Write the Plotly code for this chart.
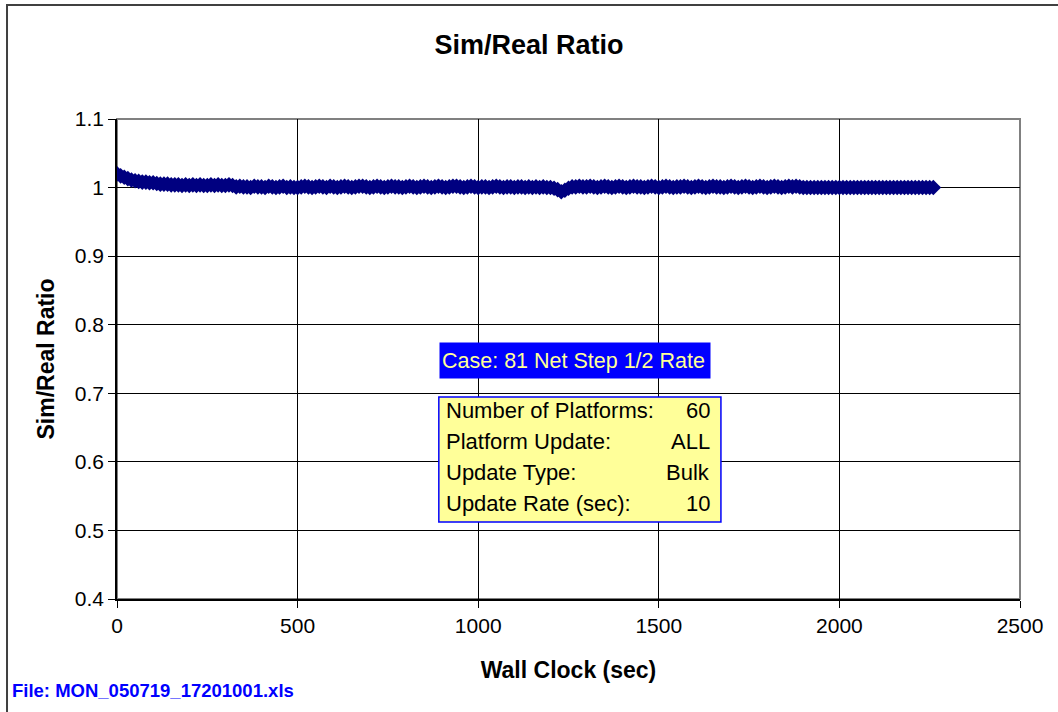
import plotly.graph_objects as go

# Wall clock (sec) and sim/real ratio (one sample every 10 s)
wall_clock = [
    0, 10, 20, 30, 40, 50, 60, 70, 80, 90,
    100, 110, 120, 130, 140, 150, 160, 170, 180, 190,
    200, 210, 220, 230, 240, 250, 260, 270, 280, 290,
    300, 310, 320, 330, 340, 350, 360, 370, 380, 390,
    400, 410, 420, 430, 440, 450, 460, 470, 480, 490,
    500, 510, 520, 530, 540, 550, 560, 570, 580, 590,
    600, 610, 620, 630, 640, 650, 660, 670, 680, 690,
    700, 710, 720, 730, 740, 750, 760, 770, 780, 790,
    800, 810, 820, 830, 840, 850, 860, 870, 880, 890,
    900, 910, 920, 930, 940, 950, 960, 970, 980, 990,
    1000, 1010, 1020, 1030, 1040, 1050, 1060, 1070, 1080, 1090,
    1100, 1110, 1120, 1130, 1140, 1150, 1160, 1170, 1180, 1190,
    1200, 1210, 1220, 1230, 1240, 1250, 1260, 1270, 1280, 1290,
    1300, 1310, 1320, 1330, 1340, 1350, 1360, 1370, 1380, 1390,
    1400, 1410, 1420, 1430, 1440, 1450, 1460, 1470, 1480, 1490,
    1500, 1510, 1520, 1530, 1540, 1550, 1560, 1570, 1580, 1590,
    1600, 1610, 1620, 1630, 1640, 1650, 1660, 1670, 1680, 1690,
    1700, 1710, 1720, 1730, 1740, 1750, 1760, 1770, 1780, 1790,
    1800, 1810, 1820, 1830, 1840, 1850, 1860, 1870, 1880, 1890,
    1900, 1910, 1920, 1930, 1940, 1950, 1960, 1970, 1980, 1990,
    2000, 2010, 2020, 2030, 2040, 2050, 2060, 2070, 2080, 2090,
    2100, 2110, 2120, 2130, 2140, 2150, 2160, 2170, 2180, 2190,
    2200, 2210, 2220, 2230, 2240, 2250, 2260]
ratio = [
    1.020, 1.017, 1.015, 1.013, 1.011, 1.010, 1.009, 1.008, 1.008, 1.007,
    1.007, 1.006, 1.005, 1.005, 1.005, 1.004, 1.004, 1.004, 1.003, 1.004,
    1.003, 1.004, 1.003, 1.004, 1.003, 1.003, 1.004, 1.003, 1.004, 1.003,
    1.003, 1.004, 1.003, 1.001, 1.002, 1.001, 1.001, 1.000, 1.002, 1.001,
    1.001, 1.000, 1.002, 1.001, 1.000, 1.001, 1.002, 1.000, 1.001, 1.000,
    1.000, 1.001, 1.002, 1.001, 1.000, 1.001, 1.002, 1.001, 1.000, 1.002,
    1.001, 1.000, 1.001, 1.002, 1.001, 1.000, 1.001, 1.002, 1.002, 1.001,
    1.000, 1.001, 1.002, 1.001, 1.000, 1.001, 1.002, 1.001, 1.001, 1.000,
    1.001, 1.002, 1.001, 1.000, 1.001, 1.002, 1.001, 1.000, 1.001, 1.002,
    1.001, 1.000, 1.001, 1.002, 1.002, 1.001, 1.000, 1.001, 1.002, 1.001,
    1.000, 1.001, 1.001, 1.000, 1.001, 1.002, 1.001, 1.000, 1.001, 1.001,
    1.000, 1.001, 1.001, 1.000, 1.001, 1.000, 1.001, 1.000, 1.001, 1.000,
    1.000, 0.999, 0.997, 0.994, 0.996, 0.999, 1.001, 1.001, 1.002, 1.001,
    1.001, 1.002, 1.001, 1.000, 1.001, 1.002, 1.001, 1.000, 1.001, 1.002,
    1.001, 1.000, 1.001, 1.002, 1.001, 1.001, 1.000, 1.001, 1.002, 1.001,
    1.000, 1.001, 1.002, 1.001, 1.000, 1.001, 1.001, 1.002, 1.001, 1.000,
    1.001, 1.002, 1.001, 1.000, 1.001, 1.002, 1.001, 1.001, 1.000, 1.001,
    1.002, 1.001, 1.000, 1.001, 1.002, 1.001, 1.000, 1.001, 1.002, 1.001,
    1.000, 1.001, 1.002, 1.001, 1.000, 1.001, 1.002, 1.001, 1.002, 1.001,
    1.000, 1.000, 1.000, 1.000, 1.000, 1.000, 1.000, 1.000, 1.000, 1.000,
    1.000, 1.000, 1.000, 1.000, 1.000, 1.000, 1.000, 1.000, 1.000, 1.000,
    1.000, 1.000, 1.000, 1.000, 1.000, 1.000, 1.000, 1.000, 1.000, 1.000,
    1.000, 1.000, 1.000, 1.000, 1.000, 1.000, 1.000]

info_labels = ["Number of Platforms:", "Platform Update:", "Update Type:", "Update Rate (sec):"]
info_values = ["60", "ALL", "Bulk", "10"]
case_text = "Case: 81 Net Step 1/2 Rate"
file_text = "File: MON_050719_17201001.xls"

fnt = "Liberation Sans, Arial, sans-serif"

fig = go.Figure()
fig.add_trace(go.Scatter(x=wall_clock, y=ratio, mode="markers",
                         marker=dict(symbol="diamond", size=12, color="#000080",
                                     line=dict(width=0, color="#000080")),
                         showlegend=False, hoverinfo="x+y"))

# outer chart frame
fig.add_shape(type="rect", xref="paper", yref="paper", x0=-0.1218, x1=1.05, y0=-0.25, y1=1.2375,
              line=dict(color="#404040", width=2), layer="below")
# plot area frame (gray top/right)
fig.add_shape(type="rect", xref="paper", yref="paper", x0=0, x1=1, y0=0, y1=1,
              line=dict(color="#808080", width=2), layer="below")

# case label
fig.add_annotation(x=891, y=0.7475, xref="x", yref="y", text=case_text, showarrow=False,
                   xanchor="left", yanchor="middle", bgcolor="#0000FF", width=266, height=31,
                   align="left", font=dict(family=fnt, size=21.5, color="#FFFF99"), borderpad=2)

# info box
fig.add_shape(type="rect", xref="x", yref="y", x0=891, x1=1672, y0=0.5123, y1=0.6946,
              fillcolor="#FFFF99", line=dict(color="#0000FF", width=1.5), layer="above")
for i, (lab, val) in enumerate(zip(info_labels, info_values)):
    yy = 0.6746 - i * 0.0452
    fig.add_annotation(x=906, y=yy, xref="x", yref="y", text=lab, showarrow=False,
                       xanchor="left", yanchor="middle", font=dict(family=fnt, size=22, color="black"))
    fig.add_annotation(x=1648, y=yy, xref="x", yref="y", text=val, showarrow=False,
                       xanchor="right", yanchor="middle", font=dict(family=fnt, size=22, color="black"))

fig.add_annotation(x=-0.118, y=-0.19, xref="paper", yref="paper", text="<b>" + file_text + "</b>",
                   showarrow=False, xanchor="left", yanchor="middle",
                   font=dict(family=fnt, size=18.5, color="#0000FF"))

fig.update_xaxes(range=[0, 2500], dtick=500, tick0=0, showgrid=True, gridcolor="#000000", gridwidth=1,
                 showline=True, linecolor="black", linewidth=1.5, ticks="outside", ticklen=7,
                 tickcolor="black", tickfont=dict(family=fnt, size=21, color="black"),
                 title=dict(text="<b>Wall Clock (sec)</b>", font=dict(family=fnt, size=23, color="black"),
                            standoff=26),
                 zeroline=False)
fig.update_yaxes(range=[0.4, 1.1], dtick=0.1, tick0=0.4, showgrid=True, gridcolor="#000000", gridwidth=1,
                 showline=True, linecolor="black", linewidth=1.5, ticks="outside", ticklen=7,
                 tickcolor="black", tickfont=dict(family=fnt, size=21, color="black"),
                 tickformat="~g",
                 title=dict(text="<b>Sim/Real Ratio</b>", font=dict(family=fnt, size=23, color="black"),
                            standoff=14),
                 zeroline=False)

fig.update_layout(
    width=1058, height=712,
    margin=dict(l=117, r=38, t=119, b=113),
    paper_bgcolor="white", plot_bgcolor="white",
    title=dict(text="<b>Sim/Real Ratio</b>", x=0.5, xanchor="center", y=0.937, yanchor="middle",
               font=dict(family=fnt, size=27, color="black")),
    font=dict(family=fnt),
)

fig.write_html("out.html", config={"displayModeBar": False},
               post_script="document.body.style.margin='0';document.body.style.overflow='hidden';")
